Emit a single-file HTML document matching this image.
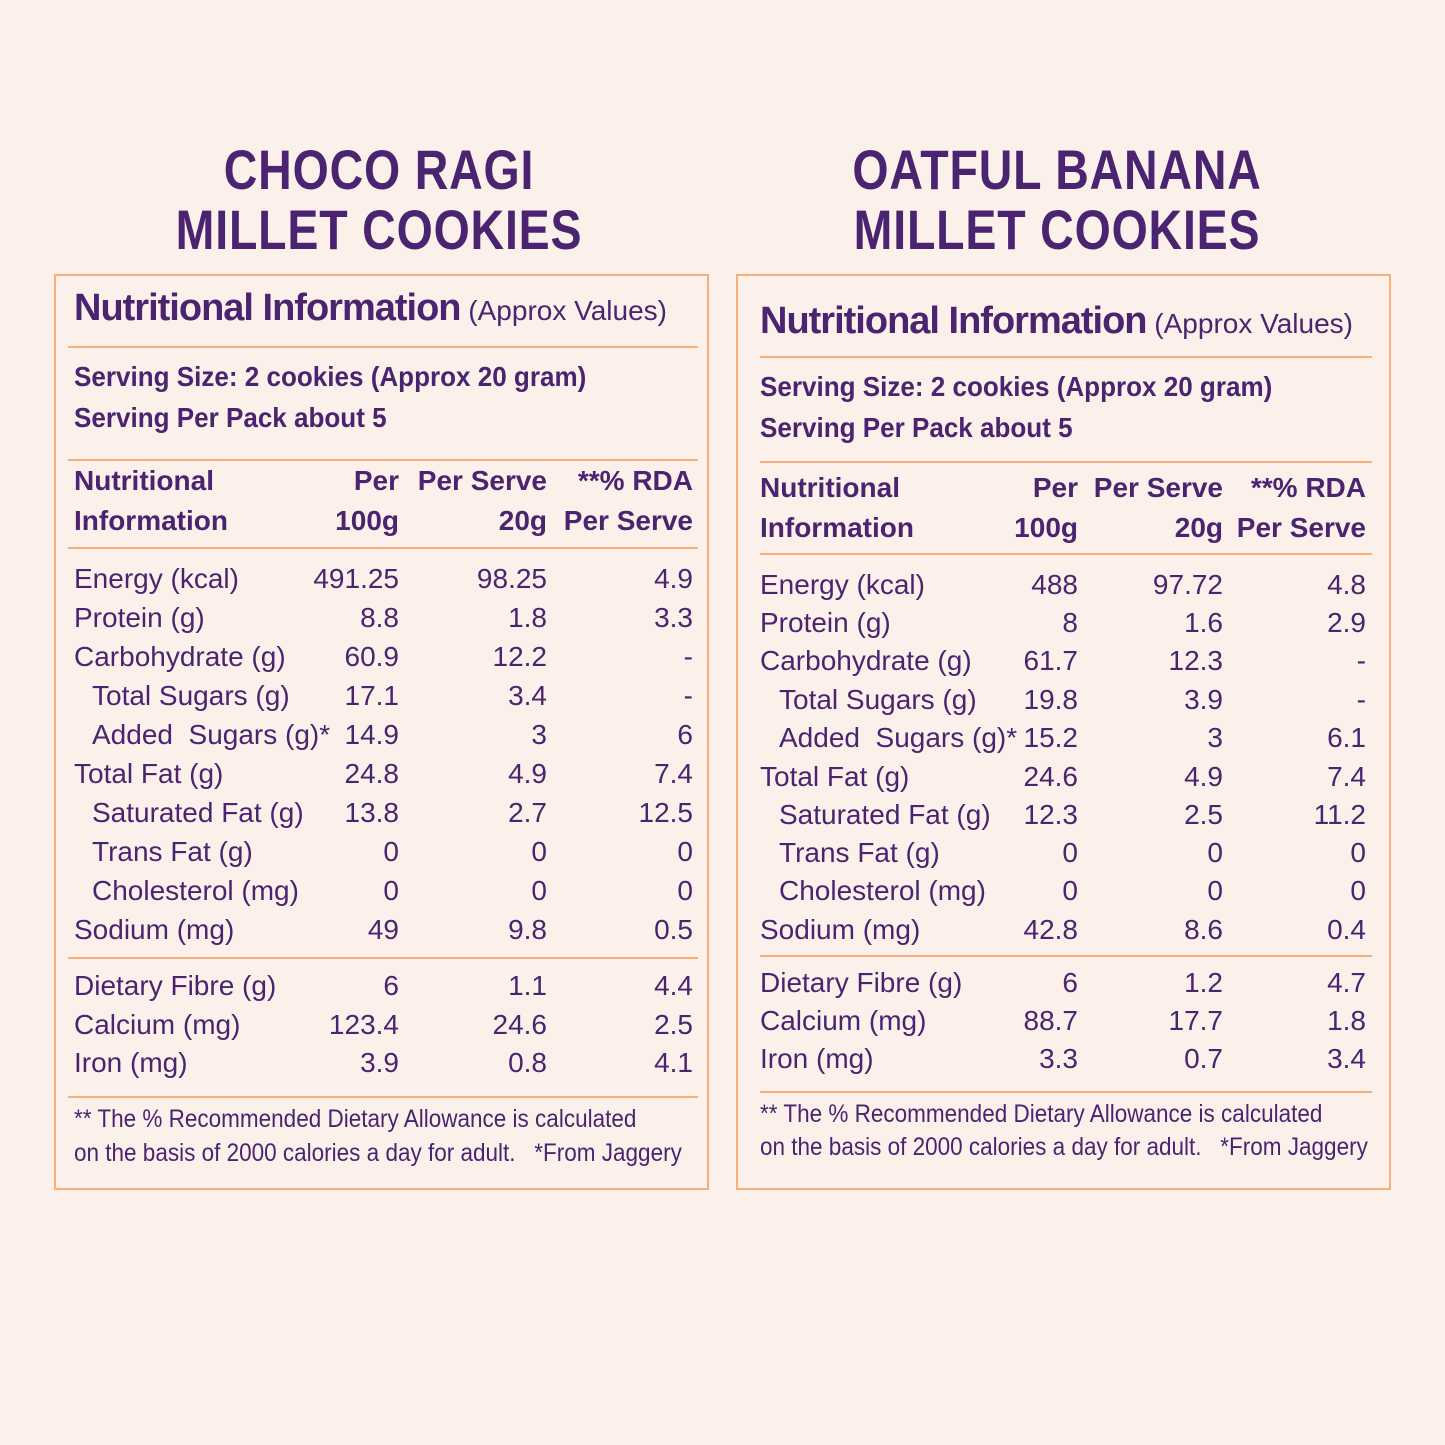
<!DOCTYPE html>
<html><head><meta charset="utf-8"><style>
body{margin:0;width:1445px;height:1445px;background:#fcf1ea;position:relative;overflow:hidden;font-family:"Liberation Sans",sans-serif;color:#4a2470}
.t{position:absolute;line-height:36px;height:36px;white-space:nowrap;font-size:28px}
.r{text-align:right;width:200px}
.h{position:absolute;height:2px;background:#f7b07a}
.box{position:absolute;border:2px solid #f7b07a;box-sizing:border-box}
.ti{position:absolute;width:600px;text-align:center;font-family:"Liberation Sans",sans-serif;font-weight:900;font-size:56px;line-height:60px;transform:scaleX(0.83);letter-spacing:1px}
.b{font-weight:bold}
.n{font-size:38px;font-weight:bold;letter-spacing:-1px}
.f{font-size:25px;transform:scaleX(0.9);transform-origin:left center}
.s{transform:scaleX(0.93);transform-origin:left center}
</style></head><body>
<div class="ti" style="left:79px;top:140px">CHOCO RAGI</div>
<div class="ti" style="left:79px;top:200px">MILLET COOKIES</div>
<div class="ti" style="left:757px;top:140px">OATFUL BANANA</div>
<div class="ti" style="left:757px;top:200px">MILLET COOKIES</div>

<div class="box" style="left:54px;top:274px;width:655px;height:916px"></div>
<div class="box" style="left:736px;top:274px;width:655px;height:916px"></div>

<!-- LEFT -->
<div class="t" style="left:74px;top:290px"><span class="n">Nutritional Information</span> (Approx Values)</div>
<div class="h" style="left:68px;top:346px;width:630px"></div>
<div class="t b s" style="left:74px;top:359px">Serving Size: 2 cookies (Approx 20 gram)</div>
<div class="t b s" style="left:74px;top:400px">Serving Per Pack about 5</div>
<div class="h" style="left:68px;top:459px;width:630px"></div>
<div class="t b" style="left:74px;top:463px">Nutritional</div>
<div class="t b" style="left:74px;top:503px">Information</div>
<div class="t b r" style="left:199px;top:463px">Per</div>
<div class="t b r" style="left:199px;top:503px">100g</div>
<div class="t b r" style="left:347px;top:463px">Per Serve</div>
<div class="t b r" style="left:347px;top:503px">20g</div>
<div class="t b r" style="left:493px;top:463px">**% RDA</div>
<div class="t b r" style="left:493px;top:503px">Per Serve</div>
<div class="h" style="left:68px;top:547px;width:630px"></div>

<div class="t" style="left:74px;top:561px">Energy (kcal)</div><div class="t r" style="left:199px;top:561px">491.25</div><div class="t r" style="left:347px;top:561px">98.25</div><div class="t r" style="left:493px;top:561px">4.9</div>
<div class="t" style="left:74px;top:600px">Protein (g)</div><div class="t r" style="left:199px;top:600px">8.8</div><div class="t r" style="left:347px;top:600px">1.8</div><div class="t r" style="left:493px;top:600px">3.3</div>
<div class="t" style="left:74px;top:639px">Carbohydrate (g)</div><div class="t r" style="left:199px;top:639px">60.9</div><div class="t r" style="left:347px;top:639px">12.2</div><div class="t r" style="left:493px;top:639px">-</div>
<div class="t" style="left:92px;top:678px">Total Sugars (g)</div><div class="t r" style="left:199px;top:678px">17.1</div><div class="t r" style="left:347px;top:678px">3.4</div><div class="t r" style="left:493px;top:678px">-</div>
<div class="t" style="left:92px;top:717px">Added&nbsp; Sugars (g)*</div><div class="t r" style="left:199px;top:717px">14.9</div><div class="t r" style="left:347px;top:717px">3</div><div class="t r" style="left:493px;top:717px">6</div>
<div class="t" style="left:74px;top:756px">Total Fat (g)</div><div class="t r" style="left:199px;top:756px">24.8</div><div class="t r" style="left:347px;top:756px">4.9</div><div class="t r" style="left:493px;top:756px">7.4</div>
<div class="t" style="left:92px;top:795px">Saturated Fat (g)</div><div class="t r" style="left:199px;top:795px">13.8</div><div class="t r" style="left:347px;top:795px">2.7</div><div class="t r" style="left:493px;top:795px">12.5</div>
<div class="t" style="left:92px;top:834px">Trans Fat (g)</div><div class="t r" style="left:199px;top:834px">0</div><div class="t r" style="left:347px;top:834px">0</div><div class="t r" style="left:493px;top:834px">0</div>
<div class="t" style="left:92px;top:873px">Cholesterol (mg)</div><div class="t r" style="left:199px;top:873px">0</div><div class="t r" style="left:347px;top:873px">0</div><div class="t r" style="left:493px;top:873px">0</div>
<div class="t" style="left:74px;top:912px">Sodium (mg)</div><div class="t r" style="left:199px;top:912px">49</div><div class="t r" style="left:347px;top:912px">9.8</div><div class="t r" style="left:493px;top:912px">0.5</div>
<div class="h" style="left:68px;top:957px;width:630px;height:1.5px"></div>
<div class="t" style="left:74px;top:968px">Dietary Fibre (g)</div><div class="t r" style="left:199px;top:968px">6</div><div class="t r" style="left:347px;top:968px">1.1</div><div class="t r" style="left:493px;top:968px">4.4</div>
<div class="t" style="left:74px;top:1007px">Calcium (mg)</div><div class="t r" style="left:199px;top:1007px">123.4</div><div class="t r" style="left:347px;top:1007px">24.6</div><div class="t r" style="left:493px;top:1007px">2.5</div>
<div class="t" style="left:74px;top:1045px">Iron (mg)</div><div class="t r" style="left:199px;top:1045px">3.9</div><div class="t r" style="left:347px;top:1045px">0.8</div><div class="t r" style="left:493px;top:1045px">4.1</div>
<div class="h" style="left:68px;top:1096px;width:630px"></div>
<div class="t f" style="left:74px;top:1101px">** The % Recommended Dietary Allowance is calculated</div>
<div class="t f" style="left:74px;top:1135px">on the basis of 2000 calories a day for adult.&nbsp;&nbsp; *From Jaggery</div>

<!-- RIGHT -->
<div class="t" style="left:760px;top:303px"><span class="n">Nutritional Information</span> (Approx Values)</div>
<div class="h" style="left:760px;top:356px;width:612px"></div>
<div class="t b s" style="left:760px;top:369px">Serving Size: 2 cookies (Approx 20 gram)</div>
<div class="t b s" style="left:760px;top:410px">Serving Per Pack about 5</div>
<div class="h" style="left:760px;top:461px;width:612px"></div>
<div class="t b" style="left:760px;top:470px">Nutritional</div>
<div class="t b" style="left:760px;top:510px">Information</div>
<div class="t b r" style="left:878px;top:470px">Per</div>
<div class="t b r" style="left:878px;top:510px">100g</div>
<div class="t b r" style="left:1023px;top:470px">Per Serve</div>
<div class="t b r" style="left:1023px;top:510px">20g</div>
<div class="t b r" style="left:1166px;top:470px">**% RDA</div>
<div class="t b r" style="left:1166px;top:510px">Per Serve</div>
<div class="h" style="left:760px;top:553px;width:612px"></div>

<div class="t" style="left:760px;top:567px">Energy (kcal)</div><div class="t r" style="left:878px;top:567px">488</div><div class="t r" style="left:1023px;top:567px">97.72</div><div class="t r" style="left:1166px;top:567px">4.8</div>
<div class="t" style="left:760px;top:605px">Protein (g)</div><div class="t r" style="left:878px;top:605px">8</div><div class="t r" style="left:1023px;top:605px">1.6</div><div class="t r" style="left:1166px;top:605px">2.9</div>
<div class="t" style="left:760px;top:643px">Carbohydrate (g)</div><div class="t r" style="left:878px;top:643px">61.7</div><div class="t r" style="left:1023px;top:643px">12.3</div><div class="t r" style="left:1166px;top:643px">-</div>
<div class="t" style="left:779px;top:682px">Total Sugars (g)</div><div class="t r" style="left:878px;top:682px">19.8</div><div class="t r" style="left:1023px;top:682px">3.9</div><div class="t r" style="left:1166px;top:682px">-</div>
<div class="t" style="left:779px;top:720px">Added&nbsp; Sugars (g)*</div><div class="t r" style="left:878px;top:720px">15.2</div><div class="t r" style="left:1023px;top:720px">3</div><div class="t r" style="left:1166px;top:720px">6.1</div>
<div class="t" style="left:760px;top:759px">Total Fat (g)</div><div class="t r" style="left:878px;top:759px">24.6</div><div class="t r" style="left:1023px;top:759px">4.9</div><div class="t r" style="left:1166px;top:759px">7.4</div>
<div class="t" style="left:779px;top:797px">Saturated Fat (g)</div><div class="t r" style="left:878px;top:797px">12.3</div><div class="t r" style="left:1023px;top:797px">2.5</div><div class="t r" style="left:1166px;top:797px">11.2</div>
<div class="t" style="left:779px;top:835px">Trans Fat (g)</div><div class="t r" style="left:878px;top:835px">0</div><div class="t r" style="left:1023px;top:835px">0</div><div class="t r" style="left:1166px;top:835px">0</div>
<div class="t" style="left:779px;top:873px">Cholesterol (mg)</div><div class="t r" style="left:878px;top:873px">0</div><div class="t r" style="left:1023px;top:873px">0</div><div class="t r" style="left:1166px;top:873px">0</div>
<div class="t" style="left:760px;top:912px">Sodium (mg)</div><div class="t r" style="left:878px;top:912px">42.8</div><div class="t r" style="left:1023px;top:912px">8.6</div><div class="t r" style="left:1166px;top:912px">0.4</div>
<div class="h" style="left:760px;top:955px;width:612px;height:1.5px"></div>
<div class="t" style="left:760px;top:965px">Dietary Fibre (g)</div><div class="t r" style="left:878px;top:965px">6</div><div class="t r" style="left:1023px;top:965px">1.2</div><div class="t r" style="left:1166px;top:965px">4.7</div>
<div class="t" style="left:760px;top:1003px">Calcium (mg)</div><div class="t r" style="left:878px;top:1003px">88.7</div><div class="t r" style="left:1023px;top:1003px">17.7</div><div class="t r" style="left:1166px;top:1003px">1.8</div>
<div class="t" style="left:760px;top:1041px">Iron (mg)</div><div class="t r" style="left:878px;top:1041px">3.3</div><div class="t r" style="left:1023px;top:1041px">0.7</div><div class="t r" style="left:1166px;top:1041px">3.4</div>
<div class="h" style="left:760px;top:1091px;width:612px"></div>
<div class="t f" style="left:760px;top:1096px">** The % Recommended Dietary Allowance is calculated</div>
<div class="t f" style="left:760px;top:1129px">on the basis of 2000 calories a day for adult.&nbsp;&nbsp; *From Jaggery</div>
</body></html>
